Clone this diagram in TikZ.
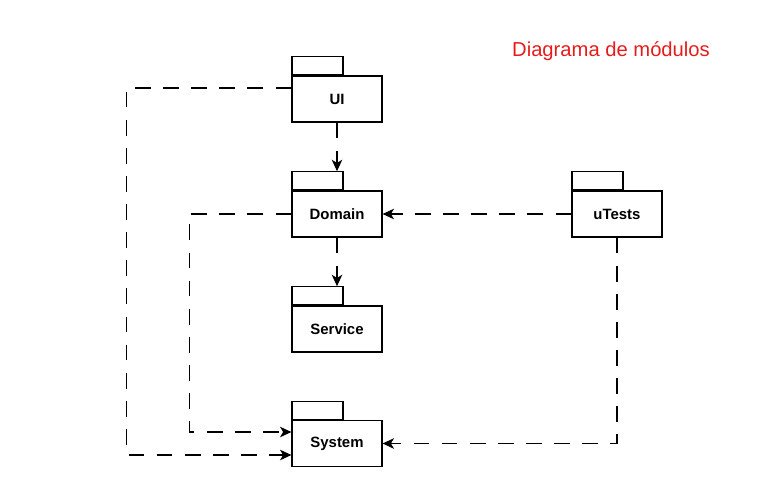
\documentclass[tikz,border=0pt]{standalone}
\usepackage{fontspec}
\setmainfont{Liberation Sans}
\usetikzlibrary{arrows.meta,positioning}
\definecolor{titlered}{RGB}{230,28,28}
\tikzset{
  pkg/.style={draw,line width=0.7pt,minimum width=1.8cm,minimum height=0.92cm,inner sep=0pt,
    font=\fontsize{8.5}{10}\selectfont\bfseries},
  pkgtab/.style={draw,line width=0.7pt,minimum width=1.02cm,minimum height=0.36cm,inner sep=0pt,anchor=south west},
  dep/.style={line width=0.65pt,dash pattern=on 9pt off 7pt,-{Stealth[length=6.5pt,width=6pt,inset=1.8pt]}},
}
\begin{document}
\begin{tikzpicture}[x=0.02cm,y=-0.02cm]
	\useasboundingbox (0,0) rectangle (781,494);
	\node (title) at (611,51) [text=titlered,font=\fontsize{11.5}{13}\selectfont] {Diagrama de módulos};
	% packages
	\node (ui) at (337,99) [pkg] {UI};
	\node (uitab) at (ui.north west) [pkgtab] {};
	\node (domain) at (337,214) [pkg] {Domain};
	\node (domaintab) at (domain.north west) [pkgtab] {};
	\node (service) at (337,329) [pkg] {Service};
	\node (servicetab) at (service.north west) [pkgtab] {};
	\node (system) at (337,443.5) [pkg] {System};
	\node (systemtab) at (system.north west) [pkgtab] {};
	\node (utests) at (617,214) [pkg] {uTests};
	\node (utereststab) at (utests.north west) [pkgtab] {};
	% dependencies
	\draw [dep] (ui.south) -- (ui.south |- domaintab.north);
	\draw [dep] (domain.south) -- (domain.south |- servicetab.north);
	\draw [dep] ([yshift=0.22cm]ui.west) -- ++(-165,0) |- ([yshift=-0.23cm]system.west);
	\draw [dep] (domain.west) -- ++(-102,0) |- ([yshift=0.23cm]system.west);
	\draw [dep] (utests.west) -- (domain.east);
	\draw [dep] (utests.south) |- (system.east);
\end{tikzpicture}
\end{document}
